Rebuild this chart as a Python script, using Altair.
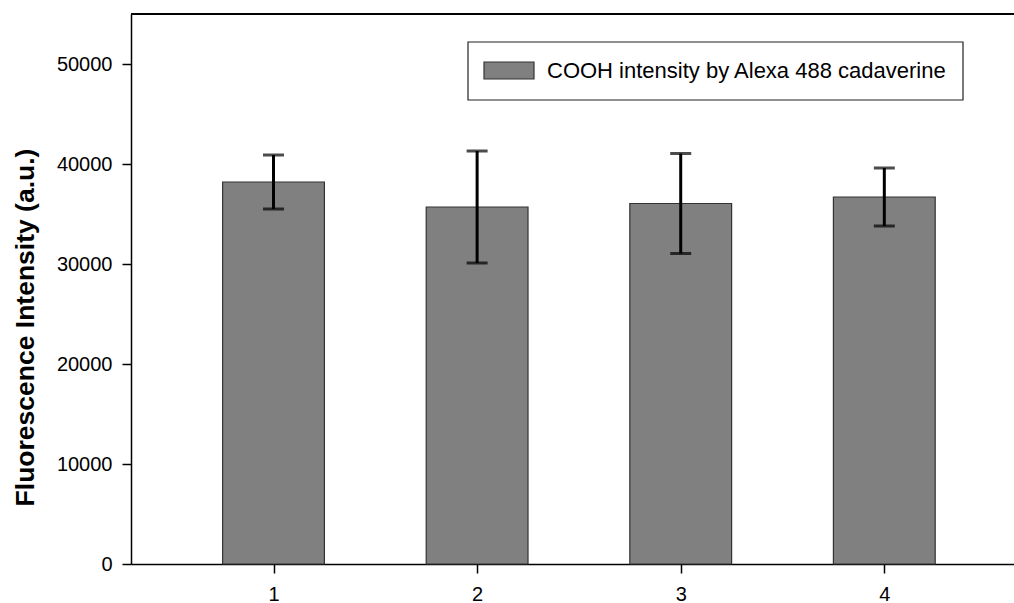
import altair as alt
import pandas as pd

samples = [1, 2, 3, 4]
intensity = [38200, 35700, 36050, 36700]
error = [2700, 5600, 5000, 2900]
y_ticks = [0, 10000, 20000, 30000, 40000, 50000]
legend_label = ["COOH intensity by Alexa 488 cadaverine"]
y_title = "Fluorescence Intensity (a.u.)"

df = pd.DataFrame({"sample": samples, "intensity": intensity, "err": error})
FONT = "Liberation Sans"

xs = alt.Scale(domain=[0.3, 4.637], nice=False, zero=False)
ys = alt.Scale(domain=[0, 55000], nice=False)

X_AX = alt.Axis(values=samples, format="d", title=None, labelPadding=11,
                labelFontSize=20, labelFont=FONT)
Y_AX = alt.Axis(values=y_ticks, format="d", title=y_title, labelPadding=10,
                labelFontSize=20, labelFont=FONT,
                titleFont=FONT, titleFontSize=26.5, titleFontWeight="bold",
                titleAngle=270, titleX=-106, titleY=313,
                titleAlign="center", titleBaseline="middle")

base = alt.Chart(df).transform_calculate(
    lo="datum.sample - 0.25",
    hi="datum.sample + 0.25",
    elo="datum.intensity - datum.err",
    ehi="datum.intensity + datum.err",
)

bars = base.mark_bar(color="#808080", stroke="#333333", strokeWidth=1.2).encode(
    x=alt.X("lo:Q", scale=xs, axis=X_AX),
    x2="hi:Q",
    y=alt.Y("intensity:Q", scale=ys, axis=Y_AX),
    y2=alt.datum(0),
)

err_rule = base.mark_rule(color="black", strokeWidth=3).encode(
    x=alt.X("sample:Q", scale=xs, axis=X_AX),
    y=alt.Y("elo:Q", scale=ys, axis=Y_AX),
    y2="ehi:Q",
)
cap_lo = base.mark_tick(color="black", orient="horizontal", size=21, thickness=3).encode(
    x=alt.X("sample:Q", scale=xs, axis=X_AX),
    y=alt.Y("elo:Q", scale=ys, axis=Y_AX),
)
cap_hi = base.mark_tick(color="black", orient="horizontal", size=21, thickness=3).encode(
    x=alt.X("sample:Q", scale=xs, axis=X_AX),
    y=alt.Y("ehi:Q", scale=ys, axis=Y_AX),
)

top_line = alt.Chart(df).mark_rule(color="black", strokeWidth=1.5).encode(
    y=alt.value(0)
)

leg_df = pd.DataFrame({"label": legend_label})
leg_box = alt.Chart(leg_df).mark_rect(fill="white", stroke="#222222", strokeWidth=1.2).encode(
    x=alt.value(337), x2=alt.value(832), y=alt.value(28), y2=alt.value(86)
)
leg_swatch = alt.Chart(leg_df).mark_rect(fill="#808080", stroke="#333333", strokeWidth=1.2).encode(
    x=alt.value(353), x2=alt.value(403), y=alt.value(48), y2=alt.value(65)
)
leg_text = alt.Chart(leg_df).mark_text(
    align="left", baseline="alphabetic", fontSize=22, font=FONT, color="black"
).encode(x=alt.value(416), y=alt.value(64), text="label:N")

chart = alt.layer(
    bars, err_rule, cap_lo, cap_hi, top_line, leg_box, leg_swatch, leg_text
).properties(
    width=883, height=550,
    autosize=alt.AutoSizeParams(type="none"),
    padding={"left": 131, "top": 14, "right": 0, "bottom": 39},
).configure_view(stroke=None).configure_axis(
    domainColor="black", domainWidth=1.5, tickColor="black", tickWidth=1.5,
    tickSize=9, labelColor="black", titleColor="black", grid=False,
)

chart.save("out.html", embed_options={"renderer": "svg", "actions": False})
